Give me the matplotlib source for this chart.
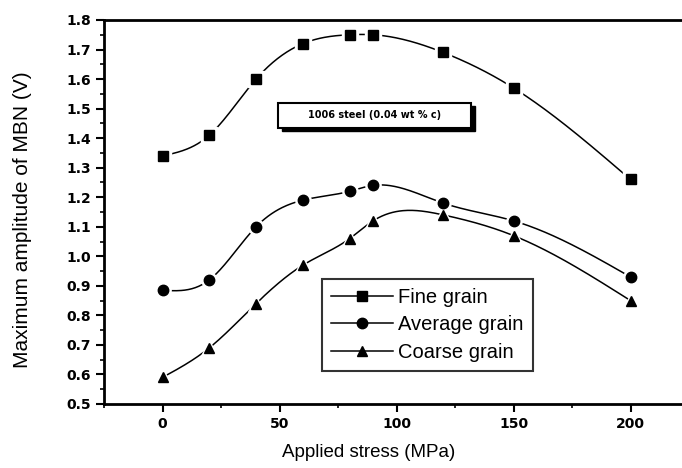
import matplotlib.pyplot as plt
import numpy as np
from matplotlib.patches import Rectangle
from matplotlib.ticker import MultipleLocator

# values
stress = [0, 20, 40, 60, 80, 90, 120, 150, 200]
fine = [1.34, 1.41, 1.60, 1.72, 1.75, 1.75, 1.69, 1.57, 1.26]
average = [0.885, 0.92, 1.10, 1.19, 1.22, 1.24, 1.18, 1.12, 0.93]
coarse = [0.59, 0.69, 0.84, 0.97, 1.06, 1.12, 1.14, 1.07, 0.85]
labels = ["Fine grain", "Average grain", "Coarse grain"]
markers = ["s", "o", "^"]
note = "1006 steel (0.04 wt % c)"


def spline(x, y, n=400):
    # natural cubic spline through the points, like Origin's spline line
    x = np.asarray(x, float)
    y = np.asarray(y, float)
    h = np.diff(x)
    m = len(x)
    A = np.zeros((m, m))
    b = np.zeros(m)
    A[0, 0] = A[-1, -1] = 1
    for i in range(1, m - 1):
        A[i, i - 1] = h[i - 1]
        A[i, i] = 2 * (h[i - 1] + h[i])
        A[i, i + 1] = h[i]
        b[i] = 6 * ((y[i + 1] - y[i]) / h[i] - (y[i] - y[i - 1]) / h[i - 1])
    M = np.linalg.solve(A, b)
    xs = np.linspace(x[0], x[-1], n)
    idx = np.clip(np.searchsorted(x, xs) - 1, 0, m - 2)
    x0, x1 = x[idx], x[idx + 1]
    hh = x1 - x0
    t0 = x1 - xs
    t1 = xs - x0
    ys = (M[idx] * t0 ** 3 / (6 * hh) + M[idx + 1] * t1 ** 3 / (6 * hh)
          + (y[idx] / hh - M[idx] * hh / 6) * t0
          + (y[idx + 1] / hh - M[idx + 1] * hh / 6) * t1)
    return xs, ys


plt.rcParams["font.family"] = ["Liberation Sans", "DejaVu Sans"]

fig = plt.figure(figsize=(6.82, 4.68), dpi=100)
ax = fig.add_axes([0.1525, 0.1368, 0.8475, 0.8205])

for series, mk, lab in zip([fine, average, coarse], markers, labels):
    xs, ys = spline(stress, series)
    ax.plot(xs, ys, color="black", lw=1.1, zorder=2)
    ax.plot(stress, series, ls="none", marker=mk, ms=11, color="white", zorder=3)
    ax.plot(stress, series, ls="none", marker=mk, ms=7.5, color="black", zorder=4)
    ax.plot([], [], color="black", lw=1.1, marker=mk, ms=7.5, label=lab)

ax.set_xlim(-25, 222)
ax.set_ylim(0.5, 1.8)
ax.xaxis.set_major_locator(MultipleLocator(50))
ax.xaxis.set_minor_locator(MultipleLocator(25))
ax.yaxis.set_major_locator(MultipleLocator(0.1))
ax.yaxis.set_minor_locator(MultipleLocator(0.05))
ax.set_yticklabels([f"{v:.1f}" for v in ax.get_yticks()])
ax.tick_params(which="major", direction="out", length=6, width=1.5)
ax.tick_params(which="minor", direction="out", length=3, width=1.2)
for t in ax.get_xticklabels() + ax.get_yticklabels():
    t.set_fontweight("bold")
    t.set_fontfamily("DejaVu Sans")
    t.set_fontsize(10)
ax.spines["right"].set_visible(False)
for s in ["left", "bottom", "top"]:
    ax.spines[s].set_linewidth(2)

ax.set_xlabel("Applied stress (MPa)", fontsize=13.5)
ax.set_ylabel("Maximum amplitude of MBN (V)", fontsize=15)
ax.xaxis.set_label_coords(0.458, -0.105)
ax.yaxis.set_label_coords(-0.125, 0.479)

# note box with drop shadow
bx, by, bw, bh = 0.301, 0.72, 0.334, 0.065
ax.add_patch(Rectangle((bx + 0.007, by - 0.01), bw, bh, transform=ax.transAxes,
                       fc="black", ec="black", zorder=5))
ax.add_patch(Rectangle((bx, by), bw, bh, transform=ax.transAxes,
                       fc="white", ec="black", lw=1.5, zorder=6))
ax.text(bx + bw / 2, by + bh / 2, note, transform=ax.transAxes, ha="center",
        va="center", fontsize=7, fontweight="bold", family="DejaVu Sans", zorder=7)

leg = ax.legend(loc="lower left", bbox_to_anchor=(0.377, 0.086), frameon=True,
                fancybox=False, edgecolor="black", fontsize=14.5, handlelength=3.1,
                labelspacing=0.42, borderpad=0.45, handletextpad=0.25,
                borderaxespad=0)
leg.get_frame().set_linewidth(1.5)

fig.savefig("out.png", dpi=100)
